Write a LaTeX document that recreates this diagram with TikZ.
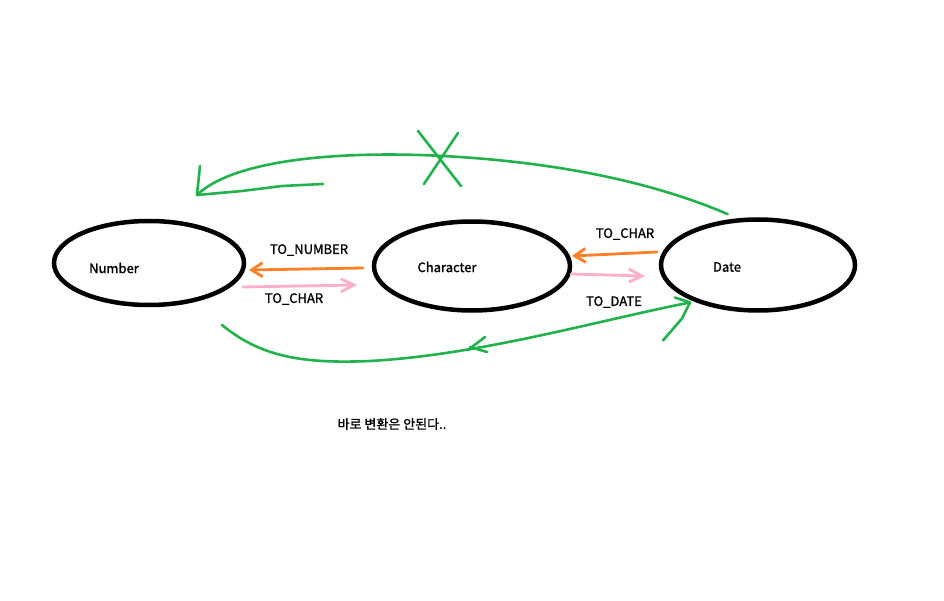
\documentclass[tikz,border=0pt]{standalone}
\usepackage{fontspec}
\setmainfont{Noto Sans CJK KR}
\newfontfamily\lbfont{Noto Sans CJK KR}[FakeBold=1.3]
\usepackage{tikz}
\usetikzlibrary{calc}
\usetikzlibrary{positioning}
\usetikzlibrary{shapes.geometric}
\usetikzlibrary {arrows.meta}
\usepackage{xcolor}
\definecolor{grn}{RGB}{34,177,76}
\definecolor{org}{RGB}{255,127,39}
\definecolor{pnk}{RGB}{255,174,201}

\begin{document}
\begin{tikzpicture}[x=1pt, y=-1pt,
		el/.style = {ellipse, draw=black, line width=4.5pt, outer sep=0pt},
		lb/.style = {font=\lbfont\fontsize{13}{15}\selectfont, inner sep=0pt},
		or/.style = {draw=org, line width=2.8pt, line cap=round, line join=round,
			-{Straight Barb[length=11pt, width=14pt, line width=2.8pt]}},
		pk/.style = {draw=pnk, line width=2.8pt, line cap=round, line join=round,
			-{Straight Barb[length=13pt, width=13pt, line width=2.8pt]}},
		gr/.style = {draw=grn, line width=2.6pt, line cap=round, line join=round},
		]
		
		\useasboundingbox (0, 0) rectangle (944, 601);
		
		% the three types
		\node[el, minimum width=190, minimum height=84]	(num)	at	(149, 263)	{};
		\node[el, minimum width=196, minimum height=89]	(chr)	at	(472, 266)	{};
		\node[el, minimum width=194, minimum height=91]	(dt)	at	(758, 265)	{};
		\node[lb]	(numt)	at	(114, 268)	{Number};
		\node[lb]	(chrt)	at	(447, 267)	{Character};
		\node[lb]	(dtt)	at	(727, 267)	{Date};
		
		% conversion functions
		\draw[or]	([shift={(-11, 2)}]chr.west)	--	([shift={(5, 7)}]num.east);
		\draw[pk]	([shift={(-1, 24)}]num.east)	--	([shift={(-17, 19)}]chr.west);
		\draw[or]	([shift={(-4, -13)}]dt.west)	--	([shift={(2, -10)}]chr.east);
		\draw[pk]	([shift={(1, 8)}]chr.east)		--	([shift={(-16, 11)}]dt.west);
		\node[lb]	(tonum)		at	(309, 250)	{TO\_NUMBER};
		\node[lb]	(tochr)		at	(294, 299)	{TO\_CHAR};
		\node[lb]	(tochr2)	at	(625, 234)	{TO\_CHAR};
		\node[lb]	(todt)		at	(614, 302)	{TO\_DATE};
		
		% no direct conversion
		\coordinate	(tTip)	at	([shift={(48, -26)}]num.north);
		\coordinate	(bTip)	at	([shift={(-68, -8)}]dt.south);
		\draw[gr]	([shift={(-14, -6)}]dt.110)
					.. controls (660, 185) and (560, 160) .. (420, 155)
					.. controls (320, 152) and (230, 163) .. (tTip);
		\draw[gr]	(tTip)	--	++(3, -29);
		\draw[gr]	(tTip)	--	++(45, -4)	--	++(40, -5)	--	++(41, -2);
		\draw[gr]	([shift={(73, 20)}]num.south)
					.. controls (260, 356) and (300, 364) .. (370, 361)
					.. controls (480, 355) and (600, 320) .. (bTip);
		\draw[gr]	(bTip)	--	++(-15, -5);
		\draw[gr]	(bTip)	--	++(-8, 16)	--	++(-19, 22);
		
		\coordinate	(tX)	at	(440, 158);
		\draw[gr]	([shift={(-22, -27)}]tX)	--	([shift={(21, 28)}]tX);
		\draw[gr]	([shift={(18, -25)}]tX)	--	([shift={(-16, 26)}]tX);
		\coordinate	(bX)	at	(477, 345);
		\draw[gr]	([shift={(8, -8)}]bX)	--	([shift={(-9, 5)}]bX);
		\draw[gr]	([shift={(-7, 2)}]bX)	--	([shift={(10, 7)}]bX);
		
		\node[lb]	(note)	at	(392, 424)	{바로 변환은 안된다..};
	\end{tikzpicture}
\end{document}
